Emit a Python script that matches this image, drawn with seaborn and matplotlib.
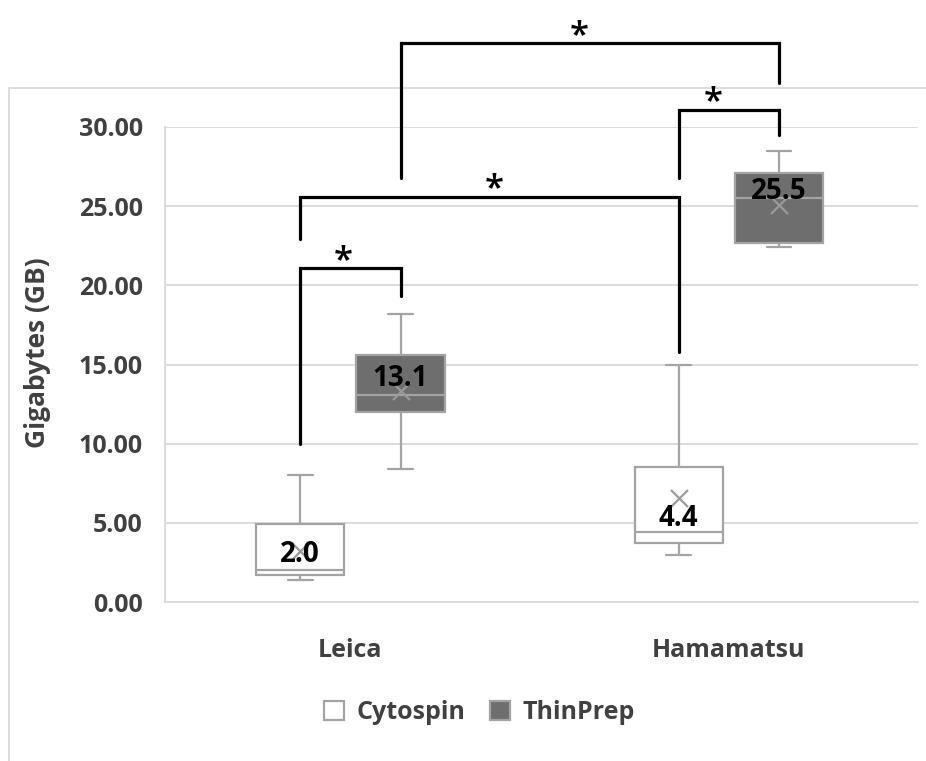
import numpy as np
import pandas as pd
import matplotlib
matplotlib.use("Agg")
import matplotlib.pyplot as plt
import matplotlib.patches as mpatches
import seaborn as sns

# ---- data ----
scanners = ["Leica", "Leica", "Hamamatsu", "Hamamatsu"]
preps = ["Cytospin", "ThinPrep", "Cytospin", "ThinPrep"]
whisker_low = [1.4, 8.4, 3.0, 22.4]
q1 = [1.7, 12.0, 3.7, 22.7]
median = [2.0, 13.1, 4.4, 25.5]
q3 = [4.9, 15.6, 8.5, 27.1]
whisker_high = [8.0, 18.2, 15.0, 28.5]
means = [3.2, 13.3, 6.6, 25.1]
median_labels = ["2.0", "13.1", "4.4", "25.5"]
label_offsets = [1.0, 1.0, 0.9, 0.4]

scanner_order = ["Leica", "Hamamatsu"]
prep_order = ["Cytospin", "ThinPrep"]
yticks = [0, 5, 10, 15, 20, 25, 30]

# significance brackets: (group a, group b, left foot, top, right foot)
brackets = [
    (0, 1, 10.0, 21.1, 19.3),
    (0, 2, 22.9, 25.6, 15.8),
    (2, 3, 26.8, 31.1, 29.5),
    (1, 3, 26.8, 35.3, 32.8),
]
star_shift = [-0.02, 0.013, -0.04, -0.027]
star_text = "*"

# ---- build table: five values per box reproduce its five statistics ----
rows = []
for s, p, a, b, c, d, e in zip(scanners, preps, whisker_low, q1, median, q3, whisker_high):
    for v in (a, b, c, d, e):
        rows.append({"Scanner": s, "Prep": p, "GB": v})
df = pd.DataFrame(rows)

sns.set_theme(style="white")
plt.rcParams["font.family"] = ["Open Sans", "DejaVu Sans"]

fig = plt.figure(figsize=(9.26, 7.61), dpi=100)
ax = fig.add_axes([165 / 926, 1 - 602 / 761, 753 / 926, 475 / 761])

total_width = 0.53
gap = 0.12
edge = "#a3a3a3"
sns.boxplot(data=df, x="Scanner", y="GB", hue="Prep", order=scanner_order,
            hue_order=prep_order, palette={"Cytospin": "white", "ThinPrep": "#6e6e6e"},
            saturation=1, width=total_width, gap=gap, whis=np.inf, linecolor=edge,
            linewidth=1.6, ax=ax, legend=True)

# dodge positions computed the same way seaborn does
offset = total_width / 4
box_w = total_width / 2 * (1 - gap)
def xpos(i):
    return scanner_order.index(scanners[i]) + (offset if preps[i] == "ThinPrep" else -offset)

# shorten caps (Excel style)
whisk_vals = set(np.round(whisker_low + whisker_high, 4))
for ln in ax.lines:
    xd = np.asarray(ln.get_xdata(), dtype=float)
    yd = np.asarray(ln.get_ydata(), dtype=float)
    if len(xd) == 2 and yd[0] == yd[1] and round(float(yd[0]), 4) in whisk_vals:
        cx = xd.mean()
        half = box_w * 0.14
        ln.set_xdata([cx - half, cx + half])

# mean markers
xs = [xpos(i) for i in range(4)]
ax.scatter(xs, means, marker="x", s=150, color="#9a9a9a", linewidths=1.6, zorder=4)

# median value labels
for i in range(4):
    ax.text(xs[i], median[i] + label_offsets[i], median_labels[i], ha="center", va="center",
            fontsize=20, fontweight="bold", color="black", zorder=6)

# brackets
for (a, b, la, top, rb), dx in zip(brackets, star_shift):
    xa, xb = xs[a], xs[b]
    ax.plot([xa, xa, xb, xb], [la, top, top, rb], color="black", lw=2.3,
            clip_on=False, zorder=5, solid_joinstyle="miter")
    ax.text((xa + xb) / 2 + dx, top + 0.45, star_text, ha="center", va="center",
            fontsize=25, fontweight="semibold", color="black", clip_on=False)

# axes styling
ax.set_ylim(0, 30)
ax.set_xlim(-0.49, 1.5)
ax.set_yticks(yticks)
ax.set_yticklabels([f"{t:.2f}" for t in yticks])
ax.yaxis.grid(True, color="#d9d9d9", lw=1.3)
ax.set_axisbelow(True)
for sp in ["top", "right"]:
    ax.spines[sp].set_visible(False)
for sp in ["left", "bottom"]:
    ax.spines[sp].set_color("#d9d9d9")
    ax.spines[sp].set_linewidth(1.3)
ax.tick_params(axis="y", length=0, pad=16, labelsize=18, labelcolor="#404040")
ax.tick_params(axis="x", length=0, pad=26, labelsize=18, labelcolor="#404040")
for lab in ax.get_yticklabels() + ax.get_xticklabels():
    lab.set_fontweight("bold")
ax.set_xlabel("")
ax.set_ylabel("Gigabytes (GB)", fontsize=19, fontweight="bold", color="#404040")
ax.yaxis.set_label_coords(-0.152, 0.524)

sns.move_legend(ax, loc="center", bbox_to_anchor=(0.518, 0.064),
                bbox_transform=fig.transFigure, ncol=2, frameon=False, title=None,
                fontsize=18, handlelength=0.8, handleheight=0.8, handletextpad=0.5,
                columnspacing=1.0, labelcolor="#404040")
for t in ax.get_legend().get_texts():
    t.set_fontweight("bold")

# outer chart frame
fig.patches.append(mpatches.Rectangle((9 / 926, -0.05), 1.2, 0.05 + (761 - 88) / 761,
                                      transform=fig.transFigure, fill=False,
                                      edgecolor="#d9d9d9", lw=1.3, zorder=-1))

fig.savefig("out.png", dpi=100)
